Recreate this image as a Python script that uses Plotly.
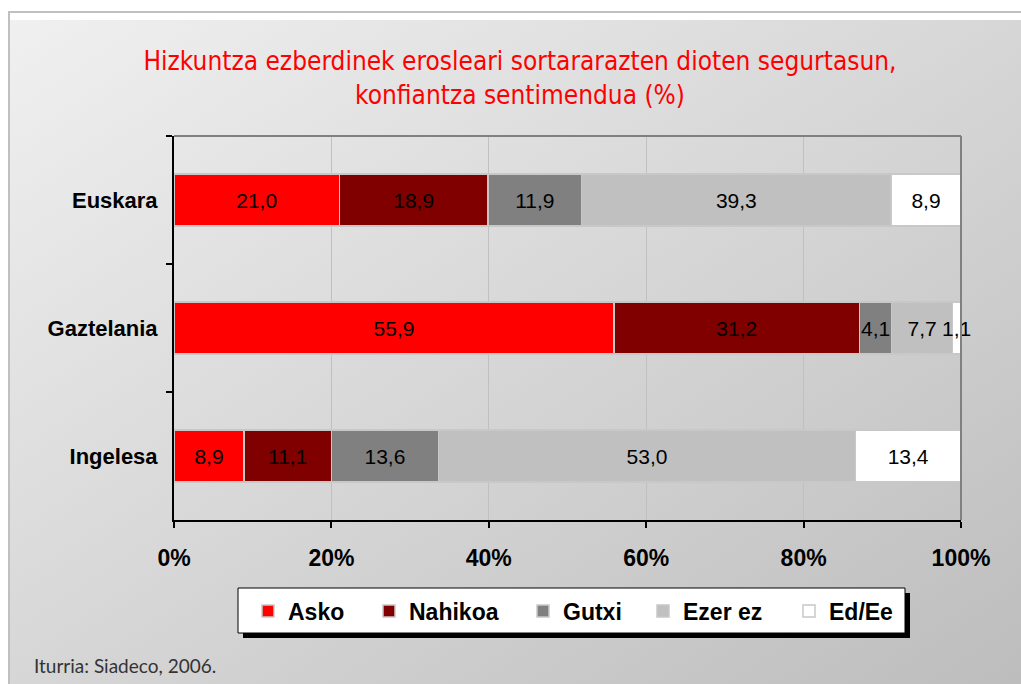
import base64
import plotly.graph_objects as go

categories = ["Euskara", "Gaztelania", "Ingelesa"]
series_names = ["Asko", "Nahikoa", "Gutxi", "Ezer ez", "Ed/Ee"]
asko = [21.0, 55.9, 8.9]
nahikoa = [18.9, 31.2, 11.1]
gutxi = [11.9, 4.1, 13.6]
ezer_ez = [39.3, 7.7, 53.0]
ed_ee = [8.9, 1.1, 13.4]
x_ticks = [0, 20, 40, 60, 80, 100]
x_tick_labels = ["0%", "20%", "40%", "60%", "80%", "100%"]

colors = ["#ff0000", "#800000", "#808080", "#c0c0c0", "#ffffff"]
values = [asko, nahikoa, gutxi, ezer_ez, ed_ee]
legend_marker_px = [268, 389, 543, 663, 809]  # legend entry positions (pixels)

W, H = 1021, 684
L, R, T, B = 174, 961, 136, 520  # plot area pixels
PW, PH = R - L, B - T
FONT = "Liberation Sans, Arial, sans-serif"


def px(xp):
    return (xp - L) / PW


def py(yp):
    return (B - yp) / PH


fig = go.Figure()
legend_ids = ["legend"] + [f"legend{i}" for i in range(2, len(series_names) + 1)]
for name, vals, col, lid in zip(series_names, values, colors, legend_ids):
    fig.add_trace(go.Bar(
        y=categories, x=vals, name=name, orientation="h", legend=lid,
        marker=dict(color=col, line=dict(color="#c8c8c8", width=1.5)),
        text=[f"{v:.1f}".replace(".", ",") for v in vals],
        textposition="inside", insidetextanchor="middle", textangle=0,
        textfont=dict(family=FONT, size=21, color="black"),
        constraintext="none",
        cliponaxis=False,
    ))

svg = ('<svg xmlns="http://www.w3.org/2000/svg" width="1012" height="664" preserveAspectRatio="none">'
       '<defs><linearGradient id="g" x1="0" y1="0" x2="1" y2="1">'
       '<stop offset="0" stop-color="#f0f0f0"/><stop offset="1" stop-color="#bdbdbd"/>'
       '</linearGradient></defs><rect width="1012" height="664" fill="url(#g)"/></svg>')
src = "data:image/svg+xml;base64," + base64.b64encode(svg.encode()).decode()

fig.add_layout_image(dict(
    source=src, xref="paper", yref="paper",
    x=px(9), y=py(20), sizex=(W - 9) / PW, sizey=(H - 20) / PH,
    xanchor="left", yanchor="top", sizing="stretch", layer="below",
))

shapes = [
    dict(type="rect", xref="paper", yref="paper", x0=px(9), y0=py(12), x1=px(W + 10), y1=py(H + 10),
         line=dict(color="#c0c0c0", width=2), fillcolor="rgba(0,0,0,0)", layer="below"),
    dict(type="rect", xref="paper", yref="paper", x0=px(243), y0=py(593), x1=px(910), y1=py(638),
         line=dict(width=0), fillcolor="black", layer="below"),
    dict(type="rect", xref="paper", yref="paper", x0=px(238), y0=py(588), x1=px(905), y1=py(633),
         line=dict(color="black", width=1), fillcolor="white", layer="below"),
    dict(type="line", xref="paper", yref="paper", x0=0, y0=1, x1=1, y1=1,
         line=dict(color="#808080", width=2), layer="above"),
    dict(type="line", xref="paper", yref="paper", x0=1, y0=0, x1=1, y1=1,
         line=dict(color="#808080", width=2), layer="above"),
]

legend_layout = {}
for lid, mx in zip(legend_ids, legend_marker_px):
    legend_layout[lid] = dict(
        orientation="h", x=px(mx - 20), xanchor="left", y=py(611), yanchor="middle",
        bgcolor="rgba(0,0,0,0)", borderwidth=0,
        font=dict(family=FONT, size=23, color="black", weight="bold"),
        itemwidth=30,
    )

fig.update_layout(
    width=W, height=H,
    margin=dict(l=L, r=W - R, t=T, b=H - B, pad=0),
    paper_bgcolor="white", plot_bgcolor="white",
    barmode="stack", bargap=0.59,
    shapes=shapes,
    uniformtext=dict(minsize=21, mode="show"),
    title=dict(
        text="Hizkuntza ezberdinek erosleari sortararazten dioten segurtasun,<br>konfiantza sentimendua (%)",
        x=520 / W, xanchor="center", xref="container",
        y=1 - 70 / H, yanchor="top", yref="container",
        font=dict(family="Liberation Sans Narrow, DejaVu Sans Condensed, sans-serif", size=26, color="#ff0000"),
    ),
    showlegend=True,
    xaxis=dict(
        range=[0, 100], tickvals=x_ticks, ticktext=x_tick_labels,
        showgrid=True, gridcolor="#c0c0c0", gridwidth=1,
        showline=True, linecolor="black", linewidth=2,
        ticks="outside", ticklen=6, tickcolor="black", tickwidth=2,
        tickfont=dict(family=FONT, size=23, color="black", weight="bold"),
        ticklabelstandoff=10, zeroline=False, fixedrange=True,
    ),
    yaxis=dict(
        autorange="reversed",
        showline=True, linecolor="black", linewidth=2,
        ticks="outside", tickson="boundaries", ticklen=6, tickcolor="black", tickwidth=2,
        tickfont=dict(family=FONT, size=22, color="black", weight="bold"),
        ticklabelstandoff=10, showgrid=False, fixedrange=True,
    ),
    annotations=[dict(
        text="Iturria: Siadeco, 2006.", xref="paper", yref="paper",
        x=px(32), y=py(665), xanchor="left", yanchor="middle", showarrow=False,
        font=dict(family="Lato, Open Sans, sans-serif", size=19, color="#333333"),
    )],
    **legend_layout,
)

fig.write_html("out.html", config={"displayModeBar": False},
               post_script="document.body.style.margin='0';document.body.style.overflow='hidden';")
